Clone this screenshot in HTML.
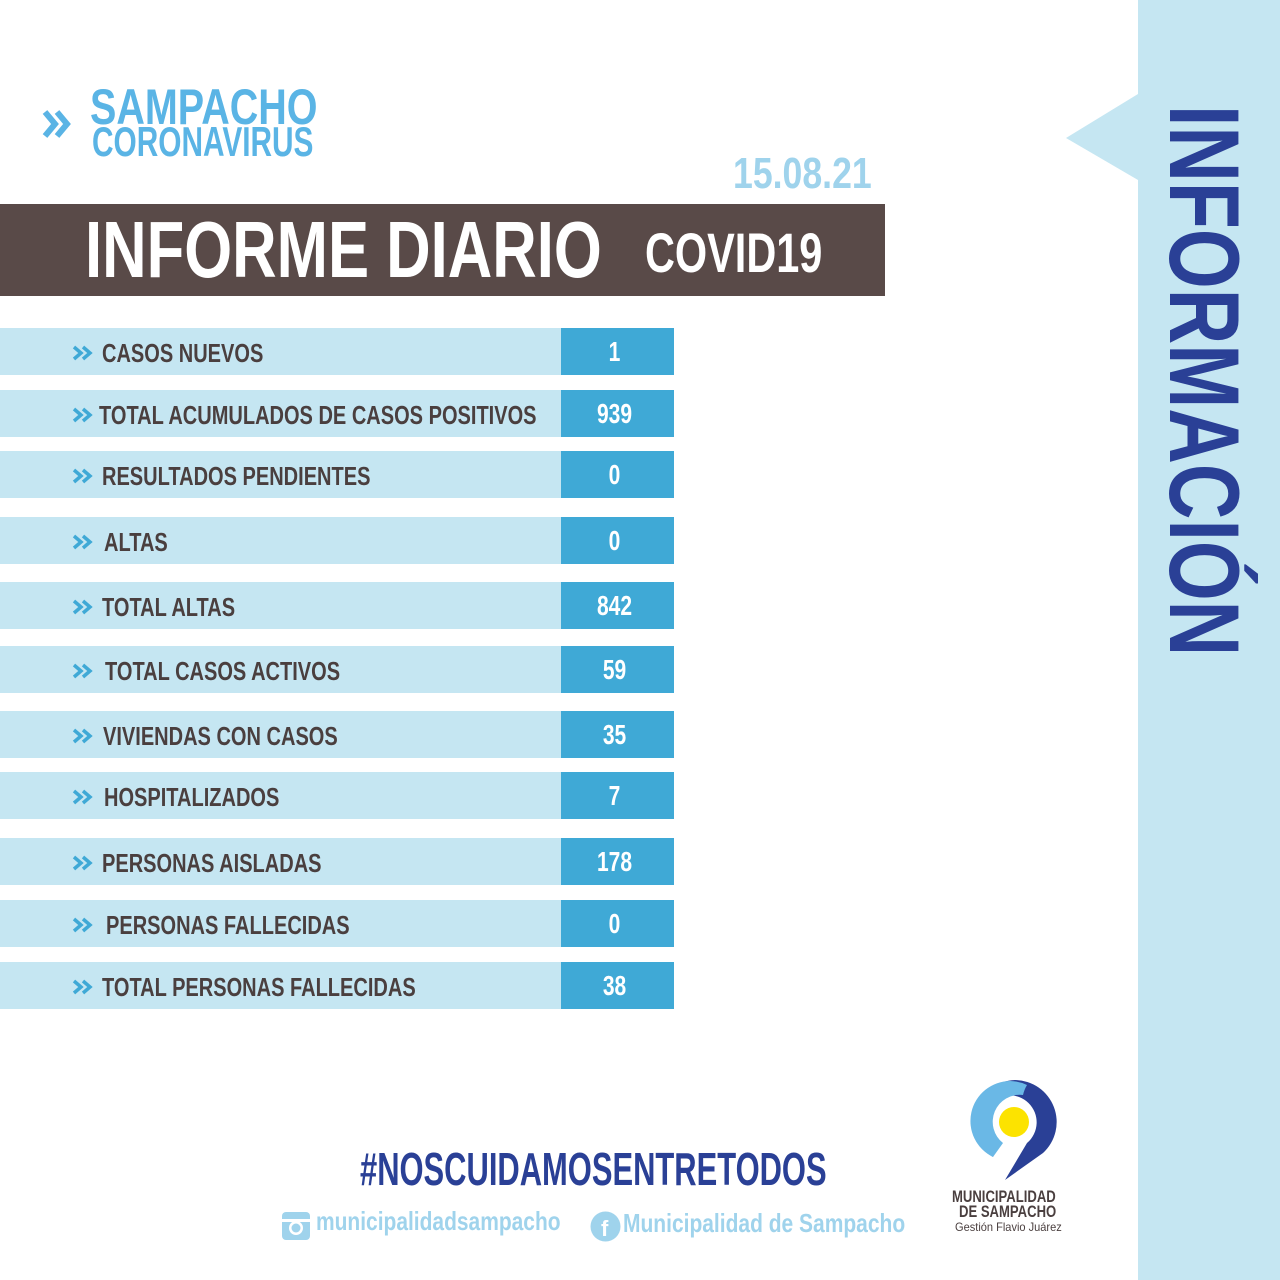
<!DOCTYPE html>
<html><head><meta charset="utf-8"><style>
body{margin:0;width:1280px;height:1280px;position:relative;background:#fff;overflow:hidden;font-family:"Liberation Sans",sans-serif}
.a{position:absolute;white-space:nowrap;font-weight:bold;line-height:1;transform-origin:left top}
.row{position:absolute;left:0;width:561px;height:47px;background:#c5e6f2}
.val{position:absolute;left:561px;width:113px;height:47px;background:#3fa9d6}
.val span{position:absolute;left:-3px;width:113px;text-align:center;top:10px;color:#fff;font-weight:bold;font-size:28px;line-height:1;transform:scaleX(.75)}
.lbl{position:absolute;top:12px;font-size:26px;color:#4a3f3f;font-weight:bold;line-height:1;white-space:nowrap;transform-origin:left top;transform:scaleX(.77)}
.chev{position:absolute;left:72px;top:17px}
</style></head><body>
<div style="position:absolute;left:1138px;top:0;width:142px;height:1280px;background:#c5e6f2"></div>
<svg style="position:absolute;left:1060px;top:90px" width="80" height="95"><polygon points="78,4 6,48 78,90" fill="#c5e6f2"/></svg>
<div class="a" style="left:1254px;top:105px;font-size:99px;color:#2a4096;transform:rotate(90deg) scaleX(.777)">INFORMACIÓN</div>

<svg style="position:absolute;left:42px;top:108px" width="36" height="34"><path d="M3,4 L13,16 L3,28 M15,4 L25,16 L15,28" stroke="#5ab4e5" stroke-width="6" fill="none"/></svg>
<div class="a" style="left:90px;top:82px;font-size:50px;color:#5ab4e5;transform:scaleX(.79)">SAMPACHO</div>
<div class="a" style="left:92px;top:121px;font-size:42px;color:#5ab4e5;transform:scaleX(.71)">CORONAVIRUS</div>
<div class="a" style="left:733px;top:152px;font-size:44px;color:#9fd3ec;transform:scaleX(.81)">15.08.21</div>

<div style="position:absolute;left:0;top:204px;width:885px;height:92px;background:#594a48"></div>
<div class="a" style="left:85px;top:210px;font-size:80px;color:#fff;transform:scaleX(.77)">INFORME DIARIO</div>
<div class="a" style="left:645px;top:225px;font-size:56px;color:#fff;transform:scaleX(.74)">COVID19</div>

<div style="position:absolute;left:0;top:328px"><div class="row"><svg class="chev" width="22" height="16"><path d="M2,2 L9,8 L2,14 M11,2 L18,8 L11,14" stroke="#3fa9d6" stroke-width="3.5" fill="none"/></svg><div class="lbl" style="left:102px">CASOS NUEVOS</div></div><div class="val"><span>1</span></div></div>
<div style="position:absolute;left:0;top:390px"><div class="row"><svg class="chev" width="22" height="16"><path d="M2,2 L9,8 L2,14 M11,2 L18,8 L11,14" stroke="#3fa9d6" stroke-width="3.5" fill="none"/></svg><div class="lbl" style="left:99px">TOTAL ACUMULADOS DE CASOS POSITIVOS</div></div><div class="val"><span>939</span></div></div>
<div style="position:absolute;left:0;top:451px"><div class="row"><svg class="chev" width="22" height="16"><path d="M2,2 L9,8 L2,14 M11,2 L18,8 L11,14" stroke="#3fa9d6" stroke-width="3.5" fill="none"/></svg><div class="lbl" style="left:102px">RESULTADOS PENDIENTES</div></div><div class="val"><span>0</span></div></div>
<div style="position:absolute;left:0;top:517px"><div class="row"><svg class="chev" width="22" height="16"><path d="M2,2 L9,8 L2,14 M11,2 L18,8 L11,14" stroke="#3fa9d6" stroke-width="3.5" fill="none"/></svg><div class="lbl" style="left:104px">ALTAS</div></div><div class="val"><span>0</span></div></div>
<div style="position:absolute;left:0;top:582px"><div class="row"><svg class="chev" width="22" height="16"><path d="M2,2 L9,8 L2,14 M11,2 L18,8 L11,14" stroke="#3fa9d6" stroke-width="3.5" fill="none"/></svg><div class="lbl" style="left:102px">TOTAL ALTAS</div></div><div class="val"><span>842</span></div></div>
<div style="position:absolute;left:0;top:646px"><div class="row"><svg class="chev" width="22" height="16"><path d="M2,2 L9,8 L2,14 M11,2 L18,8 L11,14" stroke="#3fa9d6" stroke-width="3.5" fill="none"/></svg><div class="lbl" style="left:105px">TOTAL CASOS ACTIVOS</div></div><div class="val"><span>59</span></div></div>
<div style="position:absolute;left:0;top:711px"><div class="row"><svg class="chev" width="22" height="16"><path d="M2,2 L9,8 L2,14 M11,2 L18,8 L11,14" stroke="#3fa9d6" stroke-width="3.5" fill="none"/></svg><div class="lbl" style="left:103px">VIVIENDAS CON CASOS</div></div><div class="val"><span>35</span></div></div>
<div style="position:absolute;left:0;top:772px"><div class="row"><svg class="chev" width="22" height="16"><path d="M2,2 L9,8 L2,14 M11,2 L18,8 L11,14" stroke="#3fa9d6" stroke-width="3.5" fill="none"/></svg><div class="lbl" style="left:104px">HOSPITALIZADOS</div></div><div class="val"><span>7</span></div></div>
<div style="position:absolute;left:0;top:838px"><div class="row"><svg class="chev" width="22" height="16"><path d="M2,2 L9,8 L2,14 M11,2 L18,8 L11,14" stroke="#3fa9d6" stroke-width="3.5" fill="none"/></svg><div class="lbl" style="left:102px">PERSONAS AISLADAS</div></div><div class="val"><span>178</span></div></div>
<div style="position:absolute;left:0;top:900px"><div class="row"><svg class="chev" width="22" height="16"><path d="M2,2 L9,8 L2,14 M11,2 L18,8 L11,14" stroke="#3fa9d6" stroke-width="3.5" fill="none"/></svg><div class="lbl" style="left:106px">PERSONAS FALLECIDAS</div></div><div class="val"><span>0</span></div></div>
<div style="position:absolute;left:0;top:962px"><div class="row"><svg class="chev" width="22" height="16"><path d="M2,2 L9,8 L2,14 M11,2 L18,8 L11,14" stroke="#3fa9d6" stroke-width="3.5" fill="none"/></svg><div class="lbl" style="left:102px">TOTAL PERSONAS FALLECIDAS</div></div><div class="val"><span>38</span></div></div>

<div class="a" style="left:360px;top:1146px;font-size:46px;color:#2a4096;transform:scaleX(.672)">#NOSCUIDAMOSENTRETODOS</div>
<svg style="position:absolute;left:282px;top:1212px" width="28" height="28"><rect x="0" y="0" width="28" height="28" rx="4" fill="#9fd3ec"/><rect x="0" y="7" width="28" height="3" fill="#fff"/><circle cx="14" cy="16" r="7" fill="#fff"/><circle cx="14" cy="16" r="4.5" fill="#9fd3ec"/></svg>
<div class="a" style="left:316px;top:1208px;font-size:26px;color:#9fd3ec;transform:scaleX(.806)">municipalidadsampacho</div>
<svg style="position:absolute;left:590px;top:1211px" width="31" height="31"><circle cx="15.5" cy="15.5" r="15" fill="#9fd3ec"/><text x="11" y="25" font-family="Liberation Sans" font-weight="bold" font-size="22" fill="#fff">f</text></svg>
<div class="a" style="left:623px;top:1210px;font-size:26px;color:#9fd3ec;transform:scaleX(.807)">Municipalidad de Sampacho</div>

<svg style="position:absolute;left:965px;top:1075px" width="100" height="110">
<path d="M50,5 A42,42 0 0 1 78,78 L40,105 L62,68 A27,27 0 1 0 30,70 L28,82 A42,42 0 0 1 50,5Z" fill="#2a4096"/>
<path d="M45,6 A40,40 0 0 0 28,82 L38,68 A27,27 0 0 1 58,20 A35,35 0 0 1 62,10 A40,40 0 0 0 45,6Z" fill="#6ab8e6"/>
<circle cx="49" cy="47" r="15" fill="#fce300"/>
</svg>
<div class="a" style="left:952px;top:1188px;font-size:17px;color:#4a3f3f;transform:scaleX(.77)">MUNICIPALIDAD</div>
<div class="a" style="left:959px;top:1203px;font-size:17px;color:#4a3f3f;transform:scaleX(.77)">DE SAMPACHO</div>
<div class="a" style="left:955px;top:1221px;font-size:12px;font-weight:normal;color:#4a3f3f;transform:scaleX(.92)">Gestión Flavio Juárez</div>
</body></html>
